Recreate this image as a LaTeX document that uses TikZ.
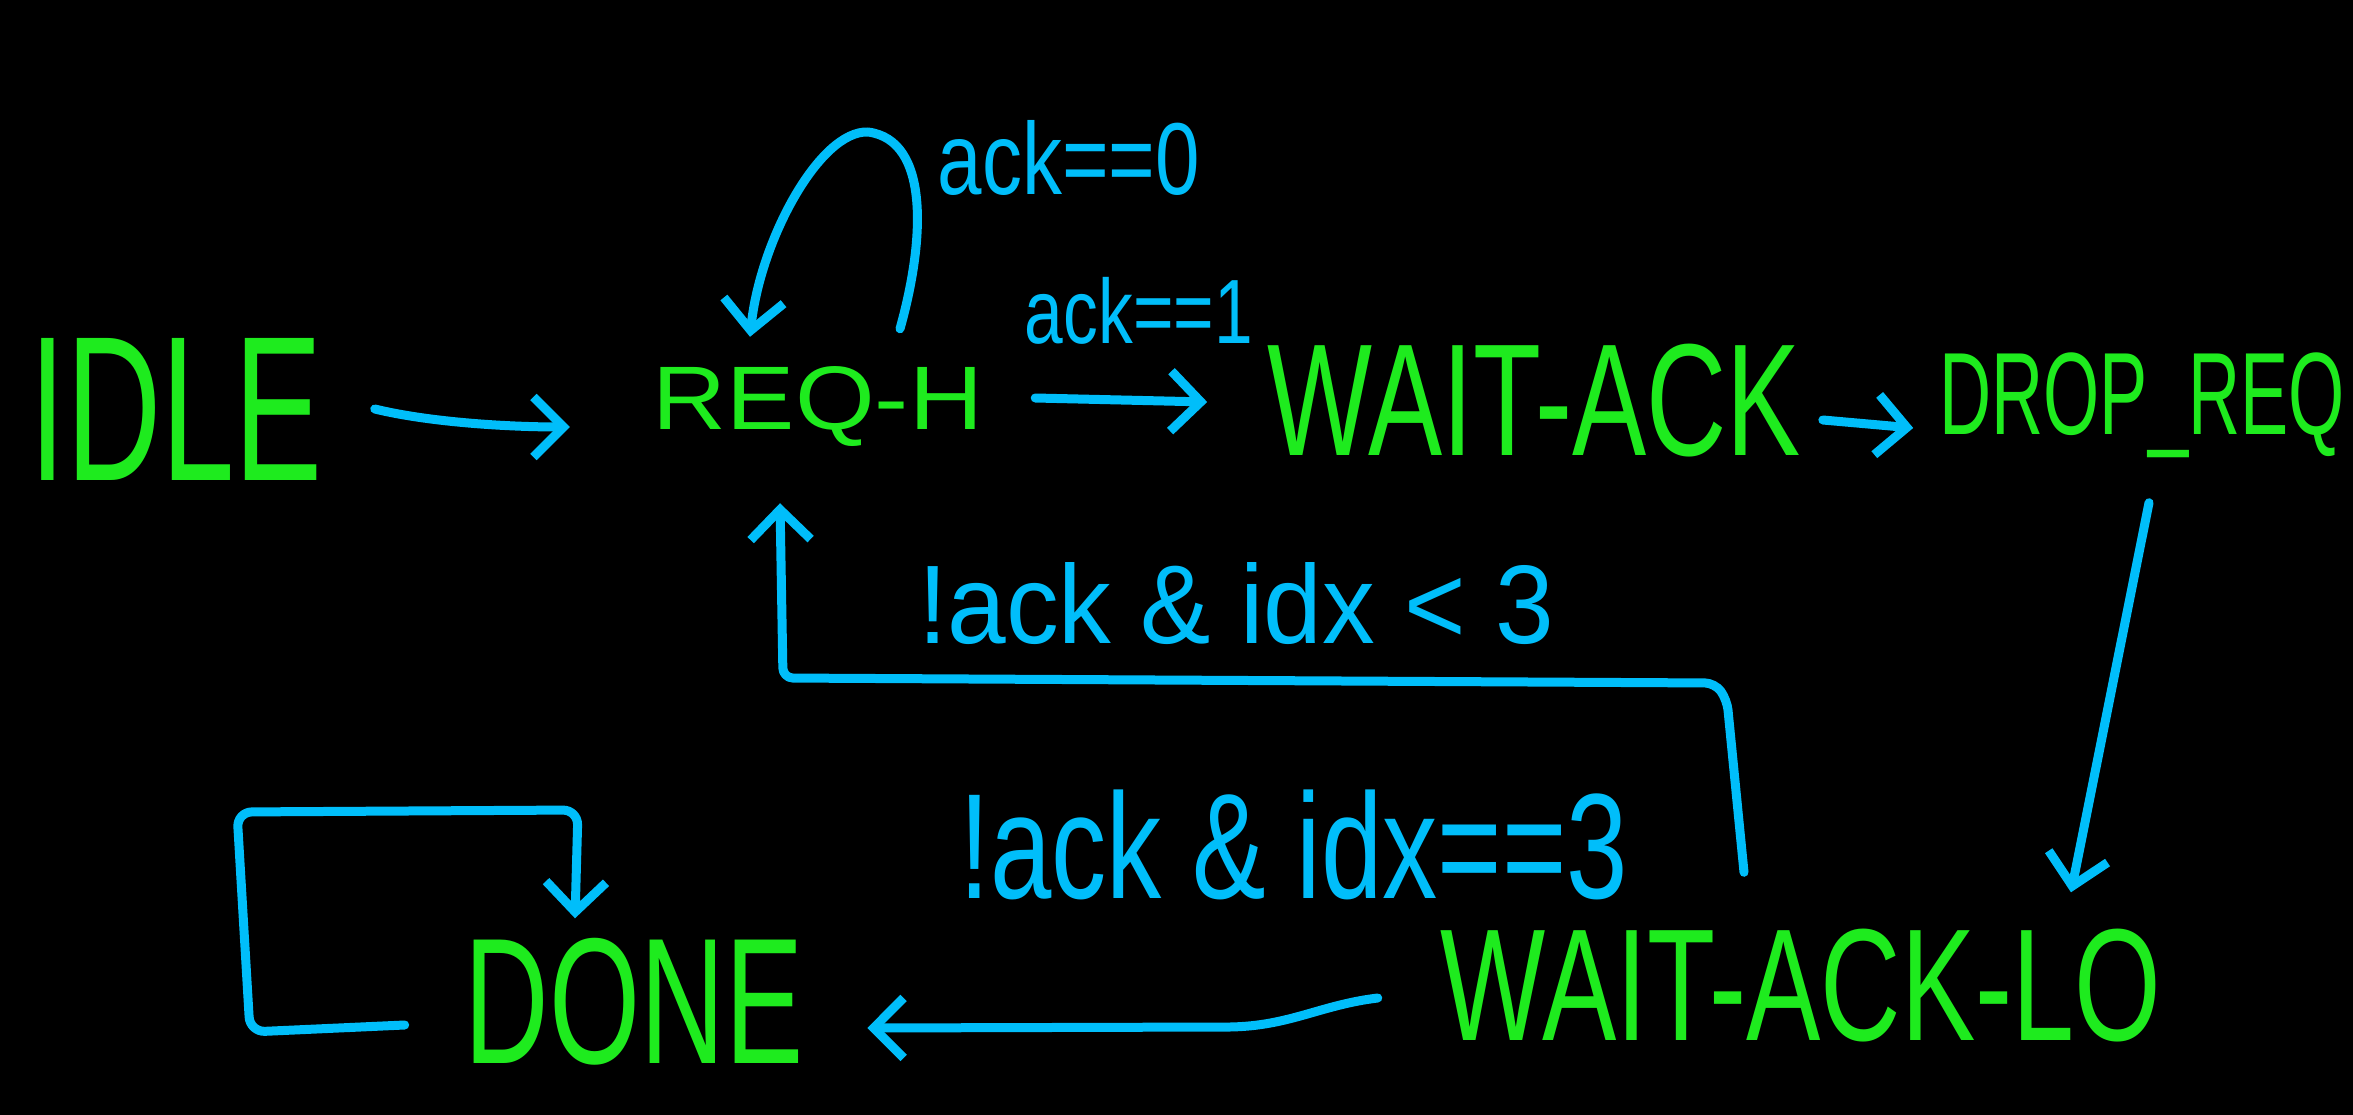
\documentclass[tikz,border=0pt]{standalone}
\usepackage{fontspec}
\setmainfont{Liberation Sans}
\usepackage{graphicx}
\usetikzlibrary{arrows.meta}
\definecolor{hgreen}{RGB}{30,235,30}
\definecolor{hblue}{RGB}{0,190,250}
\newcommand{\fitbox}[3]{\resizebox*{#1}{#2}{#3}}
\begin{document}
\begin{tikzpicture}[x=1pt,y=-1pt,
  state/.style={text=hgreen, inner sep=0pt},
  lbl/.style={text=hblue, inner sep=0pt},
  conn/.style={draw=hblue, line width=9pt, line cap=round, line join=round,
    -{Straight Barb[length=30pt,width=60pt]}},
]
\fill[black] (0,0) rectangle (2353,1115);
\useasboundingbox (0,0) rectangle (2353,1115);

% states
\node[state] (idle)      at (176,409)  {\fitbox{293pt}{142pt}{IDLE}};
\node[state] (reqh)      at (818,407)  {\fitbox{330pt}{80pt}{REQ-H}};
\node[state] (waitack)   at (1534,401) {\fitbox{533pt}{113pt}{WAIT-ACK}};
\node[state] (dropreq)   at (2142,405) {\fitbox{405pt}{105pt}{DROP\_REQ}};
\node[state] (waitacklo) at (1801,986) {\fitbox{720pt}{113pt}{WAIT-ACK-LO}};
\node[state] (done)      at (634,1002) {\fitbox{338pt}{127pt}{DONE}};

% labels
\node[lbl] (l0) at (1069,158) {\fitbox{262pt}{75pt}{ack==0}};
\node[lbl] (l1) at (1139,311) {\fitbox{228pt}{67pt}{ack==1}};
\node[lbl] (l2) at (1236,604) {\fitbox{635pt}{82pt}{!ack \& idx < 3}};
\node[lbl] (l3) at (1294,845) {\fitbox{668pt}{110pt}{!ack \& idx==3}};

% connectors
\draw[conn] ([xshift=52pt]idle.east)
  .. controls ([xshift=110pt,yshift=-14pt]idle.east) and ([xshift=-140pt,yshift=-20pt]reqh.west)
  .. ([xshift=-83pt,yshift=-20pt]reqh.west);
\draw[conn] ([xshift=52pt,yshift=9pt]reqh.east) -- ([xshift=-60pt,yshift=-1pt]waitack.west);
\draw[conn] ([xshift=22pt,yshift=-19pt]waitack.east) -- ([xshift=-26pt,yshift=-23pt]dropreq.west);
\draw[conn] ([xshift=7pt,yshift=-45pt]dropreq.south) -- ([xshift=270pt,yshift=37pt]waitacklo.north);
\draw[conn] ([xshift=-63pt,yshift=-12pt]waitacklo.west)
  .. controls (1320,1005) and (1290,1026) .. (1230,1027) -- ([xshift=64pt,yshift=-26pt]done.east);
\draw[conn] ([xshift=-60pt,yshift=-23pt]done.west)
  [rounded corners=15pt] -- (250,1032) -- (237,812) -- (578,810)
  [sharp corners] -- ([xshift=-59pt,yshift=20pt]done.north);
\draw[conn] ([xshift=82pt,yshift=38pt]reqh.north)
  .. controls (925,240) and (930,140) .. (868,132)
  .. controls (820,130) and (760,240) .. ([xshift=-68pt,yshift=30pt]reqh.north);
\draw[conn, rounded corners=10pt] ([xshift=-57pt,yshift=57pt]waitacklo.north)
  -- (1727,700) -- (1715,683) -- (783,678) -- ([xshift=-38pt,yshift=-56pt]reqh.south);
\end{tikzpicture}
\end{document}
